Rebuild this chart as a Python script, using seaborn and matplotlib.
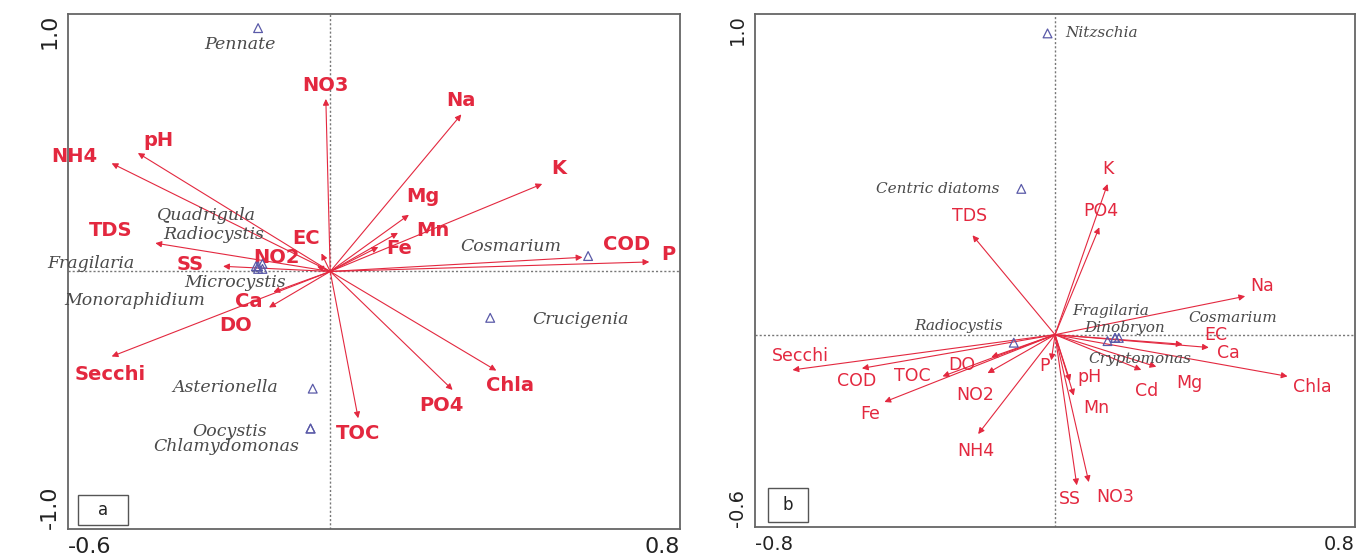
import matplotlib
matplotlib.use("Agg")
import matplotlib.pyplot as plt
from matplotlib.patches import Rectangle
import numpy as np
import pandas as pd
import seaborn as sns

# panel a: environmental vectors (biplot scores)
a_vars = ["NO3", "Na", "K", "Mg", "Mn", "Fe", "COD", "P", "EC", "NO2", "SS", "TDS",
          "NH4", "pH", "Ca", "DO", "Secchi", "TOC", "PO4", "Chla"]
a_vx = [-0.01, 0.30, 0.485, 0.18, 0.155, 0.11, 0.577, 0.73, -0.02, -0.03, -0.245, -0.40,
        -0.50, -0.44, -0.13, -0.14, -0.50, 0.064, 0.28, 0.38]
a_vy = [0.67, 0.61, 0.34, 0.22, 0.15, 0.095, 0.055, 0.037, 0.07, 0.02, 0.02, 0.11,
        0.42, 0.46, -0.08, -0.14, -0.33, -0.57, -0.46, -0.385]

# panel a: species scores
a_species = ["Pennate", "Quadrigula", "Radiocystis", "Fragilaria", "Microcystis",
             "Monoraphidium", "Cosmarium", "Crucigenia", "Asterionella", "Oocystis",
             "Chlamydomonas"]
a_sx = [-0.165, -0.155, -0.165, -0.17, -0.155, -0.165, 0.59, 0.366, -0.04, -0.045, -0.045]
a_sy = [0.945, 0.03, 0.02, 0.02, 0.01, 0.01, 0.06, -0.18, -0.455, -0.61, -0.61]

# panel b: environmental vectors
b_vars = ["TDS", "K", "PO4", "Na", "EC", "Ca", "Chla", "Mg", "Cd", "pH", "Mn", "SS",
          "NO3", "P", "Secchi", "COD", "TOC", "DO", "NO2", "Fe", "NH4"]
b_vx = [-0.22, 0.14, 0.118, 0.507, 0.34, 0.41, 0.62, 0.27, 0.23, 0.04, 0.05, 0.058,
        0.09, -0.01, -0.70, -0.515, -0.30, -0.17, -0.18, -0.455, -0.205]
b_vy = [0.31, 0.47, 0.335, 0.12, -0.03, -0.04, -0.13, -0.10, -0.11, -0.145, -0.19, -0.47,
        -0.46, -0.08, -0.11, -0.105, -0.13, -0.07, -0.12, -0.21, -0.31]

# panel b: species scores
b_species = ["Nitzschia", "Centric diatoms", "Radiocystis", "Fragilaria", "Dinobryon",
             "Cosmarium", "Cryptomonas"]
b_sx = [-0.02, -0.09, -0.11, 0.16, 0.17, 0.16, 0.14]
b_sy = [0.94, 0.455, -0.025, -0.01, -0.01, -0.01, -0.02]

# label offsets in points (layout only)
a_voff = [(0, 10), (0, 10), (12, 11), (10, 13), (25, 2), (15, -1), (32, 9), (14, 5),
          (-11, 11), (-29, 6), (-24, 1), (-32, 9), (-27, 5), (15, 9), (-18, -7),
          (-24, -13), (-1, -13), (0, -11), (-8, -11), (10, -11)]
a_soff = [(-13, -12), (-40, 35), (-32, 23), (-119, 2), (-20, -10), (-89, -23),
          (-56, 7), (65, -1), (-63, 1), (-58, -2), (-61, -13)]
b_voff = [(-2, 14), (0, 11), (1, 12), (12, 7), (24, 7), (14, -4), (18, -8), (24, -12),
          (4, -15), (14, 3), (16, -9), (-5, -10), (19, -11), (-5, -4), (6, 10), (-4, -9),
          (-22, 0), (-21, -6), (-9, -16), (-10, -9), (-2, -12)]
b_soff = [(39, 0), (-60, 0), (-40, 12), (-3, 19), (4, 7), (85, 14), (23, -13)]

RED = "#e3283f"
SPC = "#4a4a4a"
TRI = "#5a5aa8"


def draw_panel(ax, vars_, vx, vy, voff, species, sx, sy, soff, xlim, ylim, xstep, ystep,
               tag, tagbox, vfont, sfont, tfont, bold):
    ax.set_xlim(*xlim)
    ax.set_ylim(*ylim)
    ax.axhline(0, color="#777777", lw=1, ls=(0, (1.5, 1.5)), zorder=1)
    ax.axvline(0, color="#777777", lw=1, ls=(0, (1.5, 1.5)), zorder=1)
    for name, x, y, off in zip(vars_, vx, vy, voff):
        ax.annotate("", xy=(x, y), xytext=(0, 0),
                    arrowprops=dict(arrowstyle="-|>", color=RED, lw=0.8,
                                    mutation_scale=9, shrinkA=0, shrinkB=0), zorder=3)
        ax.annotate(name, xy=(x, y), xytext=off, textcoords="offset points",
                    ha="center", va="center", color=RED, fontsize=vfont,
                    fontweight="bold" if bold else "normal", family="DejaVu Sans", zorder=4)
    df = pd.DataFrame({"x": sx, "y": sy, "name": species})
    sns.scatterplot(data=df, x="x", y="y", ax=ax, marker="^", s=40, facecolor="none",
                    edgecolor=TRI, linewidth=0.9, legend=False, zorder=5)
    for name, x, y, off in zip(species, sx, sy, soff):
        ax.annotate(name, xy=(x, y), xytext=off, textcoords="offset points",
                    ha="center", va="center", color=SPC, fontsize=sfont,
                    style="italic", family="DejaVu Serif", zorder=4)
    ax.set_xlabel("")
    ax.set_ylabel("")
    xt = np.arange(xlim[0], xlim[1] + 1e-9, xstep)
    yt = np.arange(ylim[0], ylim[1] + 1e-9, ystep)
    ax.set_xticks(xt)
    ax.set_yticks(yt)
    ax.set_xticklabels([f"{xt[0]:.1f}"] + [""] * (len(xt) - 2) + [f"{xt[-1]:.1f}"])
    ax.set_yticklabels([f"{yt[0]:.1f}"] + [""] * (len(yt) - 2) + [f"{yt[-1]:.1f}"],
                       rotation=90)
    xl = ax.get_xticklabels()
    xl[0].set_ha("left")
    xl[-1].set_ha("right")
    yl = ax.get_yticklabels()
    yl[0].set_va("bottom")
    yl[-1].set_va("top")
    ax.tick_params(length=4, width=1, color="#555555", labelsize=tfont, pad=2,
                   labelcolor="#222222")
    for sp in ax.spines.values():
        sp.set_color("#666666")
        sp.set_linewidth(1.3)
    x0, y0, w, h = tagbox
    ax.add_patch(Rectangle((x0, y0), w, h, transform=ax.transAxes, fc="white",
                           ec="#555555", lw=1, zorder=6))
    ax.text(x0 + w / 2, y0 + h / 2, tag, transform=ax.transAxes, fontsize=12,
            family="DejaVu Sans", ha="center", va="center", zorder=7, color="#222222")


sns.set_style("white")
fig = plt.figure(figsize=(13.56, 5.58), dpi=100)
ax_a = fig.add_axes([0.0501, 0.052, 0.4513, 0.923])
ax_b = fig.add_axes([0.5568, 0.0556, 0.4425, 0.919])

draw_panel(ax_a, a_vars, a_vx, a_vy, a_voff, a_species, a_sx, a_sy, a_soff,
           (-0.6, 0.8), (-1.0, 1.0), 0.2, 0.5, "a", (0.016, 0.008, 0.082, 0.058),
           14, 12.5, 16, True)
draw_panel(ax_b, b_vars, b_vx, b_vy, b_voff, b_species, b_sx, b_sy, b_soff,
           (-0.8, 0.8), (-0.6, 1.0), 0.2, 0.2, "b", (0.022, 0.01, 0.066, 0.066),
           12.5, 11, 14, False)

fig.savefig("out.png", dpi=100)
